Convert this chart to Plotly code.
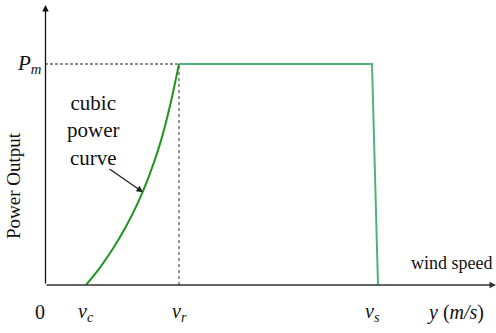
import plotly.graph_objects as go

# wind speed axis (arbitrary units), power normalised to P_m = 1
v_c, v_r, v_s, v_off = 4.1, 13.4, 32.7, 33.3
curve_v = [4.1, 5.5, 6.8, 8.1, 9.3, 10.4, 11.4, 12.2, 12.8, 13.4]
curve_p = [0.0, 0.079, 0.165, 0.265, 0.373, 0.493, 0.624, 0.755, 0.871, 1.0]
flat_v = [13.4, 32.7, 33.3]
flat_p = [1.0, 1.0, 0.0]
tick_pos = [0, v_c, v_r, v_s]
tick_txt = ["0", "<i>v</i><sub><i>c</i></sub>", "<i>v</i><sub><i>r</i></sub>", "<i>v</i><sub><i>s</i></sub>"]

FONT = "Liberation Serif"
XMAX = 45.1
YMAX = 280 / 221

fig = go.Figure()
fig.add_trace(go.Scatter(x=[0, v_r], y=[1, 1], mode="lines",
                         line=dict(color="#222222", width=1.2, dash="3px,2px")))
fig.add_trace(go.Scatter(x=[v_r, v_r], y=[0, 1], mode="lines",
                         line=dict(color="#777777", width=1.5, dash="dot")))
fig.add_trace(go.Scatter(x=curve_v, y=curve_p, mode="lines",
                         line=dict(color="#1f951f", width=2, shape="spline", smoothing=0.8)))
fig.add_trace(go.Scatter(x=flat_v, y=flat_p, mode="lines",
                         line=dict(color="#4fb27c", width=2)))

ann = []
# axes with arrows
ann.append(dict(x=XMAX, y=0, ax=0, ay=0, xref="x", yref="y", axref="x", ayref="y",
                showarrow=True, arrowhead=2, arrowsize=1, arrowwidth=1.3,
                arrowcolor="#333333", text=""))
ann.append(dict(x=0.05, y=YMAX, ax=0.05, ay=0, xref="x", yref="y", axref="x", ayref="y",
                showarrow=True, arrowhead=2, arrowsize=1, arrowwidth=1.3,
                arrowcolor="#111111", text=""))
for p, t in zip(tick_pos, tick_txt):
    ann.append(dict(x=p, y=0, xref="x", yref="y", yshift=-27,
                    xshift=(-5 if p == 0 else 0), showarrow=False,
                    text=t, font=dict(family=FONT, size=20, color="#111111")))
ann.append(dict(x=41.0, y=0, xref="x", yref="y", yshift=-27, showarrow=False,
                text="<i>y</i> (<i>m/s</i>)", font=dict(family=FONT, size=20, color="#111111")))
ann.append(dict(x=40.6, y=0, xref="x", yref="y", yshift=22, showarrow=False,
                text="wind speed", font=dict(family=FONT, size=18, color="#111111")))
ann.append(dict(x=0, y=1, xref="x", yref="y", xshift=-16, showarrow=False,
                text="<i>P</i><sub><i>m</i></sub>", font=dict(family=FONT, size=21, color="#111111")))
ann.append(dict(x=0, y=0.448, xref="x", yref="y", xshift=-31, showarrow=False, textangle=-90,
                text="Power Output", font=dict(family=FONT, size=19, color="#111111")))
ann.append(dict(x=4.8, y=0.70, xref="x", yref="y", showarrow=False,
                text="cubic<br>power<br>curve", align="center",
                font=dict(family=FONT, size=21, color="#111111")))
ann.append(dict(x=9.8, y=0.42, ax=6.3, ay=0.53, xref="x", yref="y", axref="x", ayref="y",
                showarrow=True, arrowhead=2, arrowsize=1, arrowwidth=1.3,
                arrowcolor="#222222", text=""))

fig.update_layout(
    width=496, height=333,
    margin=dict(l=45, r=0, t=5, b=48),
    paper_bgcolor="white", plot_bgcolor="white",
    showlegend=False,
    annotations=ann,
    xaxis=dict(range=[0, XMAX], visible=False, fixedrange=True),
    yaxis=dict(range=[0, YMAX], visible=False, fixedrange=True),
)
fig.write_html("out.html", config={"displayModeBar": False},
               post_script="document.body.style.margin='0';document.body.style.overflow='hidden';")
